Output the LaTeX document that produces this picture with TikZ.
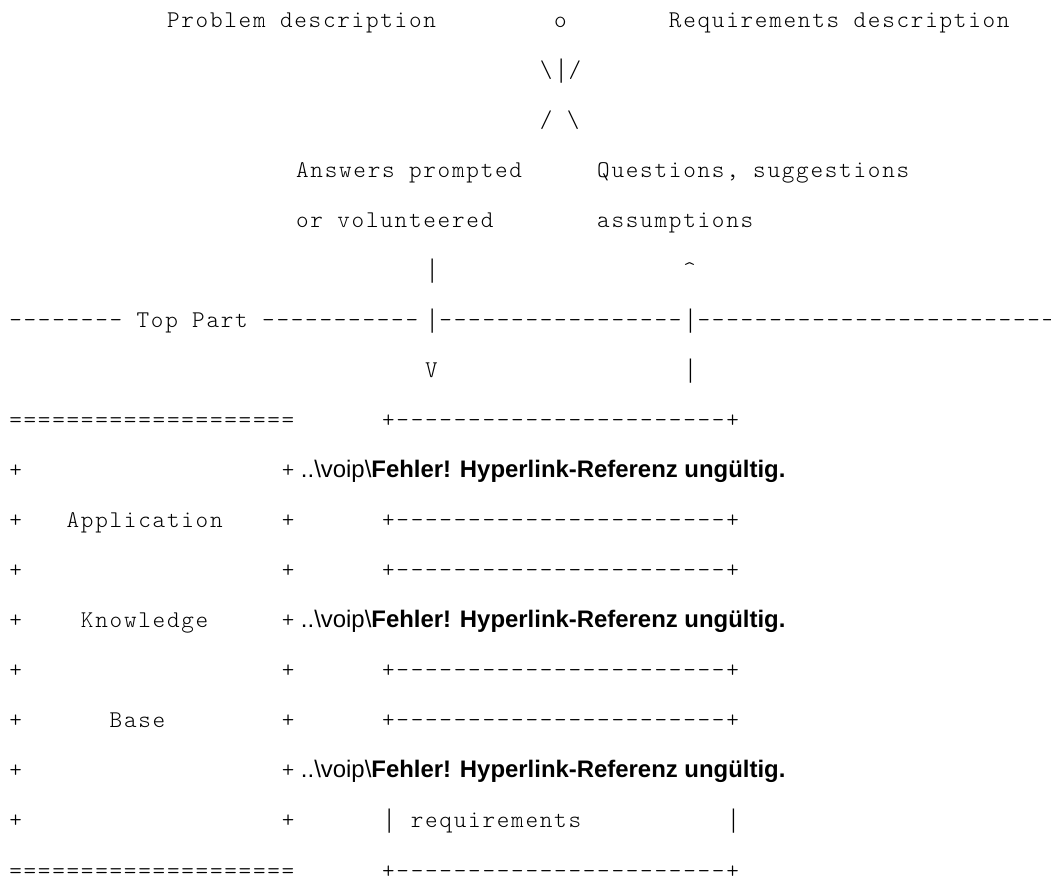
\documentclass[tikz,border=0pt]{standalone}
\usepackage{fontspec}
\setmonofont[LetterSpace=7.25]{Latin Modern Mono Light}
\setsansfont{Liberation Sans}
\newfontfamily\barfont{Liberation Serif}
\usepackage{tikz}
\usetikzlibrary{positioning}

\tikzset{
    ascii/.style={anchor=base west, inner sep=0pt, outer sep=0pt, font=\ttfamily\fontsize{18}{18}\selectfont},
    asciibar/.style={anchor=base, inner sep=0pt, outer sep=0pt, xshift=5.38pt, font=\barfont\fontsize{20}{20}\selectfont},
    linkline/.style={anchor=base west, inner sep=0pt, outer sep=0pt, font=\sffamily\fontsize{17.93}{17.93}\selectfont},
}

\begin{document}
\begin{tikzpicture}[x=10.755pt, y=-37.545pt]
    \useasboundingbox (-0.6485,-0.5394) rectangle (72.644,17.0);
    \clip (-0.6485,-0.5394) rectangle (72.644,17.0);

    % Actor
    \node[ascii] (problem) at (11,0) {Problem description};
    \node[ascii] (actor) at (38,0) {o};
    \node[ascii] (reqdesc) at (46,0) {Requirements description};
    \node[ascii] (larm) at (37,1) {\textbackslash};
    \node[asciibar] (body) at (38,1) {|};
    \node[ascii] (rarm) at (39,1) {/};
    \node[ascii] (legs) at (37,2) {/ \textbackslash};

    % Answers and questions
    \node[ascii] (answers) at (20,3) {Answers prompted};
    \node[ascii] (answers2) at (20,4) {or volunteered};
    \node[ascii] (questions) at (41,3) {Questions, suggestions};
    \node[ascii] (questions2) at (41,4) {assumptions};
    \node[asciibar] (downbar) at (29,5) {|};
    \node[ascii] (uphead) at (47,5) {\textasciicircum};

    % Top part line
    \node[ascii] (toppart) at (0,6) {-------- Top Part -----------};
    \node[asciibar] (cross1) at (29,6) {|};
    \node[ascii] (midline) at (30,6) {-----------------};
    \node[asciibar] (cross2) at (47,6) {|};
    \node[ascii] (rightline) at (48,6) {-------------------------};
    \node[ascii] (downhead) at (29,7) {V};
    \node[asciibar] (upbar) at (47,7) {|};

    % Knowledge base
    \node[ascii] (kbtop) at (0,8) {====================};
    \node[ascii] (kbbottom) at (0,17) {====================};
    \foreach \r in {9,...,16} {
        \node[ascii] (kbl\r) at (0,\r) {+};
        \node[ascii] (kbr\r) at (19,\r) {+};
    }
    \node[ascii] (app) at (4,10) {Application};
    \node[ascii] (know) at (5,12) {Knowledge};
    \node[ascii] (kbase) at (7,14) {Base};

    % Requirement boxes
    \foreach \r in {8,10,11,13,14,17} {
        \node[ascii] (box\r) at (26,\r) {+-----------------------+};
    }
    \foreach \r in {9,12,15} {
        \node[linkline] (link\r) at (kbr\r.base east) {\ ..\textbackslash voip\textbackslash\textbf{Fehler! Hyperlink-Referenz ungültig.}};
    }
    \node[asciibar] (reqleft) at (26,16) {|};
    \node[ascii] (reqtext) at (28,16) {requirements};
    \node[asciibar] (reqright) at (50,16) {|};
\end{tikzpicture}
\end{document}
